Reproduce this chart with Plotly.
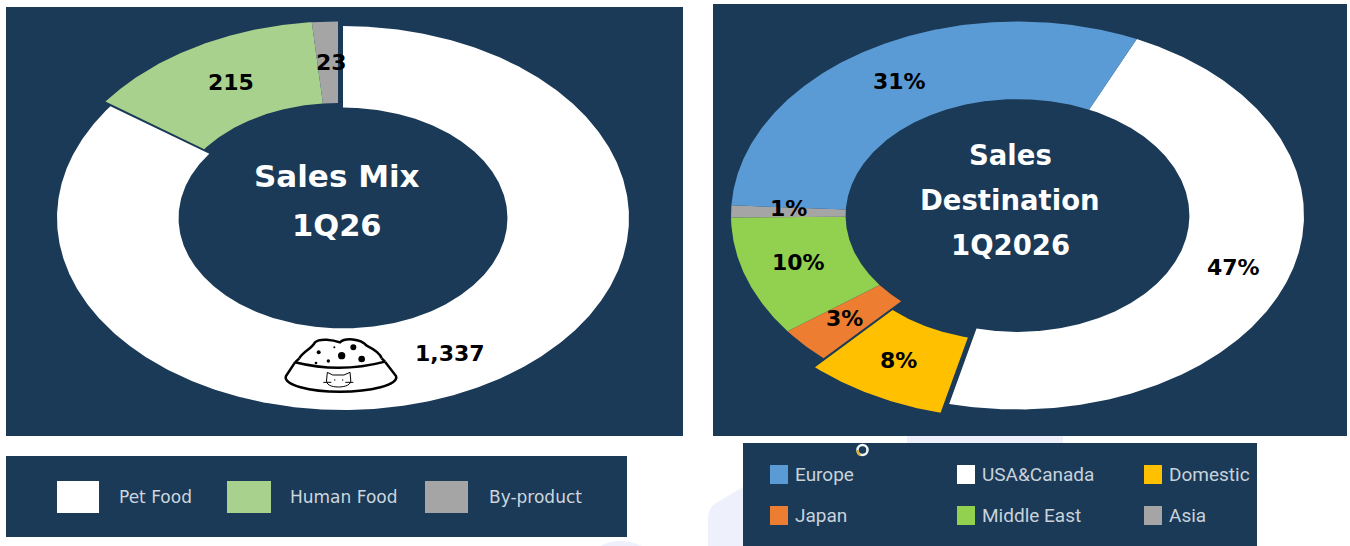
import math
import plotly.graph_objects as go

W, H = 1350, 546
NAVY = "#1b3a57"

mix_names = ["Pet Food", "Human Food", "By-product"]
mix_values = [1337, 215, 23]
mix_colors = ["#ffffff", "#a9d18e", "#a5a5a5"]

dest_names = ["USA&Canada", "Domestic", "Japan", "Middle East", "Asia", "Europe"]
dest_values = [47, 8, 3, 10, 1, 31]
dest_colors = ["#ffffff", "#ffc000", "#ed7d31", "#92d050", "#a5a5a5", "#5b9bd5"]

dest_legend_rows = [["Europe", "USA&Canada", "Domestic"], ["Japan", "Middle East", "Asia"]]


def px(x):
    return x / W


def py(y):
    return 1 - y / H


def wedges(values, start_deg, hole, offsets):
    """Ring sectors in unit-circle coordinates, clockwise from 12 o'clock."""
    out = []
    total = sum(values)
    a = start_deg
    for v, (dx, dy) in zip(values, offsets):
        b = a + 360.0 * v / total
        n = max(3, int(b - a) * 2)
        angles = [math.radians(a + (b - a) * i / n) for i in range(n + 1)]
        xs = [math.sin(t) + dx for t in angles] + [hole * math.sin(t) + dx for t in reversed(angles)]
        ys = [math.cos(t) + dy for t in angles] + [hole * math.cos(t) + dy for t in reversed(angles)]
        out.append((xs + xs[:1], ys + ys[:1]))
        a = b
    return out


fig = go.Figure()
PAD = 1.1


def add_donut(idx, cx, cy, rx, ry, values, colors, names, start, hole, offsets):
    suffix = "" if idx == 1 else str(idx)
    for (xs, ys), c, n in zip(wedges(values, start, hole, offsets), colors, names):
        fig.add_trace(go.Scatter(x=xs, y=ys, mode="lines", fill="toself", fillcolor=c,
                                 line=dict(width=0, color=c), name=n, showlegend=False,
                                 hoverinfo="name", xaxis="x" + suffix, yaxis="y" + suffix))
    fig.update_layout(**{
        "xaxis" + suffix: dict(domain=[px(cx - rx * PAD), px(cx + rx * PAD)], range=[-PAD, PAD], visible=False, fixedrange=True),
        "yaxis" + suffix: dict(domain=[py(cy + ry * PAD), py(cy - ry * PAD)], range=[-PAD, PAD], visible=False, fixedrange=True),
    })


add_donut(1, 343, 218, 286, 192, mix_values, mix_colors, mix_names, 0, 0.575,
          [(0, 0), (-0.0175, 0.024), (-0.0175, 0.024)])
add_donut(2, 1017.5, 215.5, 286.5, 194, dest_values, dest_colors, dest_names, 24.6, 0.6,
          [(0, 0), (-0.03, -0.046), (0, 0), (0, 0), (0, 0), (0, 0)])

shapes = []


def rect(x0, y0, x1, y1, color, layer="below"):
    shapes.append(dict(type="rect", xref="paper", yref="paper", x0=px(x0), x1=px(x1), y0=py(y1), y1=py(y0),
                       fillcolor=color, line=dict(width=0), layer=layer))


PALE = "#eef1fb"
# pale page watermark
rect(907, 436, 1063, 443, PALE)
shapes.append(dict(type="path", xref="paper", yref="paper", layer="below", fillcolor=PALE, line=dict(width=0),
                   path=f"M {px(743)} {py(487)} L {px(716)} {py(503)} Q {px(708)} {py(508)} {px(708)} {py(518)} L {px(708)} {py(546)} L {px(743)} {py(546)} Z"))
shapes.append(dict(type="path", xref="paper", yref="paper", layer="below", fillcolor=PALE, line=dict(width=0),
                   path=f"M {px(600)} {py(546)} Q {px(620)} {py(536)} {px(642)} {py(546)} Z"))

# panels
rect(6, 7, 683, 436, NAVY)
rect(713, 4, 1347, 436, NAVY)
rect(6, 456, 627, 537, NAVY)
rect(743, 443, 1257, 546, NAVY)

annotations = []


def text(x, y, s, size, color="#000000", family="DejaVu Sans", bold=True):
    annotations.append(dict(xref="paper", yref="paper", x=px(x), y=py(y), text=f"<b>{s}</b>" if bold else s,
                            showarrow=False, xanchor="center", yanchor="middle",
                            font=dict(size=size, color=color, family=family)))


LBL = 22
for (x, y), v in zip([(450, 353), (231, 82), (331, 62)], mix_values):
    text(x, y, f"{v:,}", LBL)
for (x, y), v in zip([(1233, 267), (898, 360), (844, 318), (798, 262), (788, 208), (899, 81)], dest_values):
    text(x, y, f"{v}%", LBL)

text(337, 176, "Sales Mix", 31, "#ffffff")
text(337, 226, "1Q26", 30.5, "#ffffff")
text(1010, 155, "Sales", 27.5, "#ffffff")
text(1010, 200, "Destination", 27.5, "#ffffff")
text(1010, 245, "1Q2026", 27.5, "#ffffff")

# left legend
for (x0, x1, tx), n, c in zip([(57, 99, 155), (227, 271, 343), (425, 468, 535)], mix_names, mix_colors):
    rect(x0, 481, x1, 513, c, layer="above")
    text(tx, 497, n, 17, "#cdd6de", bold=False)

# right legend
color_of = dict(zip(dest_names, dest_colors))
for y0, row in zip([465, 506], dest_legend_rows):
    for (x0, tx), n in zip([(770, 793), (957, 980), (1144, 1167)], row):
        rect(x0, y0, x0 + 18, y0 + 19, color_of[n], layer="above")
        annotations.append(dict(xref="paper", yref="paper", x=px(tx), y=py(y0 + 9.5), text=n, showarrow=False,
                                xanchor="left", yanchor="middle",
                                font=dict(size=19, color="#c8d2db", family="Roboto")))


# bowl icon, drawn from the crop's local coordinates
def bx(v):
    return px(270 + v / 3)


def by(v):
    return py(325 + v / 3)


def line_path(cmds):
    parts = []
    for cmd, *pts in cmds:
        s = cmd
        for i in range(0, len(pts), 2):
            s += f" {bx(pts[i]):.5f} {by(pts[i + 1]):.5f}"
        parts.append(s)
    return " ".join(parts)


BLK = "#000000"
paths = [
    [("M", 88, 100), ("C", 100, 78, 125, 72, 135, 52), ("C", 150, 38, 190, 45, 210, 52), ("C", 225, 38, 270, 40, 290, 62), ("C", 310, 72, 330, 85, 335, 100)],
    [("M", 75, 112), ("Q", 210, 146, 345, 110), ("M", 75, 112), ("L", 88, 100), ("M", 345, 110), ("L", 335, 100)],
    [("M", 75, 112), ("L", 48, 153), ("C", 38, 180, 120, 200, 210, 200), ("C", 300, 200, 388, 180, 378, 153), ("L", 345, 110)],
    # cat face
    [("M", 170, 162), ("L", 172, 142), ("L", 188, 150), ("L", 222, 150), ("L", 240, 142), ("L", 242, 162), ("C", 246, 180, 225, 186, 205, 186), ("C", 185, 186, 166, 180, 170, 162)],
    [("M", 160, 172), ("L", 184, 172), ("M", 226, 172), ("L", 250, 172), ("M", 192, 165), ("L", 196, 165), ("M", 216, 165), ("L", 220, 165)],
]
for p in paths:
    thin = p is paths[3] or p is paths[4]
    shapes.append(dict(type="path", xref="paper", yref="paper", path=line_path(p), layer="above",
                       line=dict(color=BLK, width=1 if thin else 2.5)))
for cx, cy, r in [(146, 82, 6), (193, 67, 3), (250, 67, 9), (215, 92, 11), (175, 108, 5), (275, 102, 10), (138, 114, 4)]:
    shapes.append(dict(type="circle", xref="paper", yref="paper", x0=bx(cx - r), x1=bx(cx + r), y0=by(cy + r), y1=by(cy - r),
                       fillcolor=BLK, line=dict(width=0), layer="above"))

# small ring artefact above the right legend
shapes.append(dict(type="circle", xref="paper", yref="paper", x0=px(857.5), x1=px(867.5), y0=py(455), y1=py(445),
                   fillcolor="rgba(0,0,0,0)", line=dict(color="#f2f5f7", width=2.5), layer="above"))
shapes.append(dict(type="path", xref="paper", yref="paper", layer="above", line=dict(color="#d8b23a", width=2.5),
                   path=f"M {px(857.5)} {py(450)} Q {px(857.5)} {py(454)} {px(860.5)} {py(455)}"))

fig.update_layout(width=W, height=H, autosize=False, margin=dict(l=0, r=0, t=0, b=0),
                  paper_bgcolor="#ffffff", plot_bgcolor="rgba(0,0,0,0)",
                  shapes=shapes, annotations=annotations, showlegend=False)
fig.write_html("out.html", config={"displayModeBar": False},
               post_script="document.body.style.margin='0';document.body.style.overflow='hidden';")
